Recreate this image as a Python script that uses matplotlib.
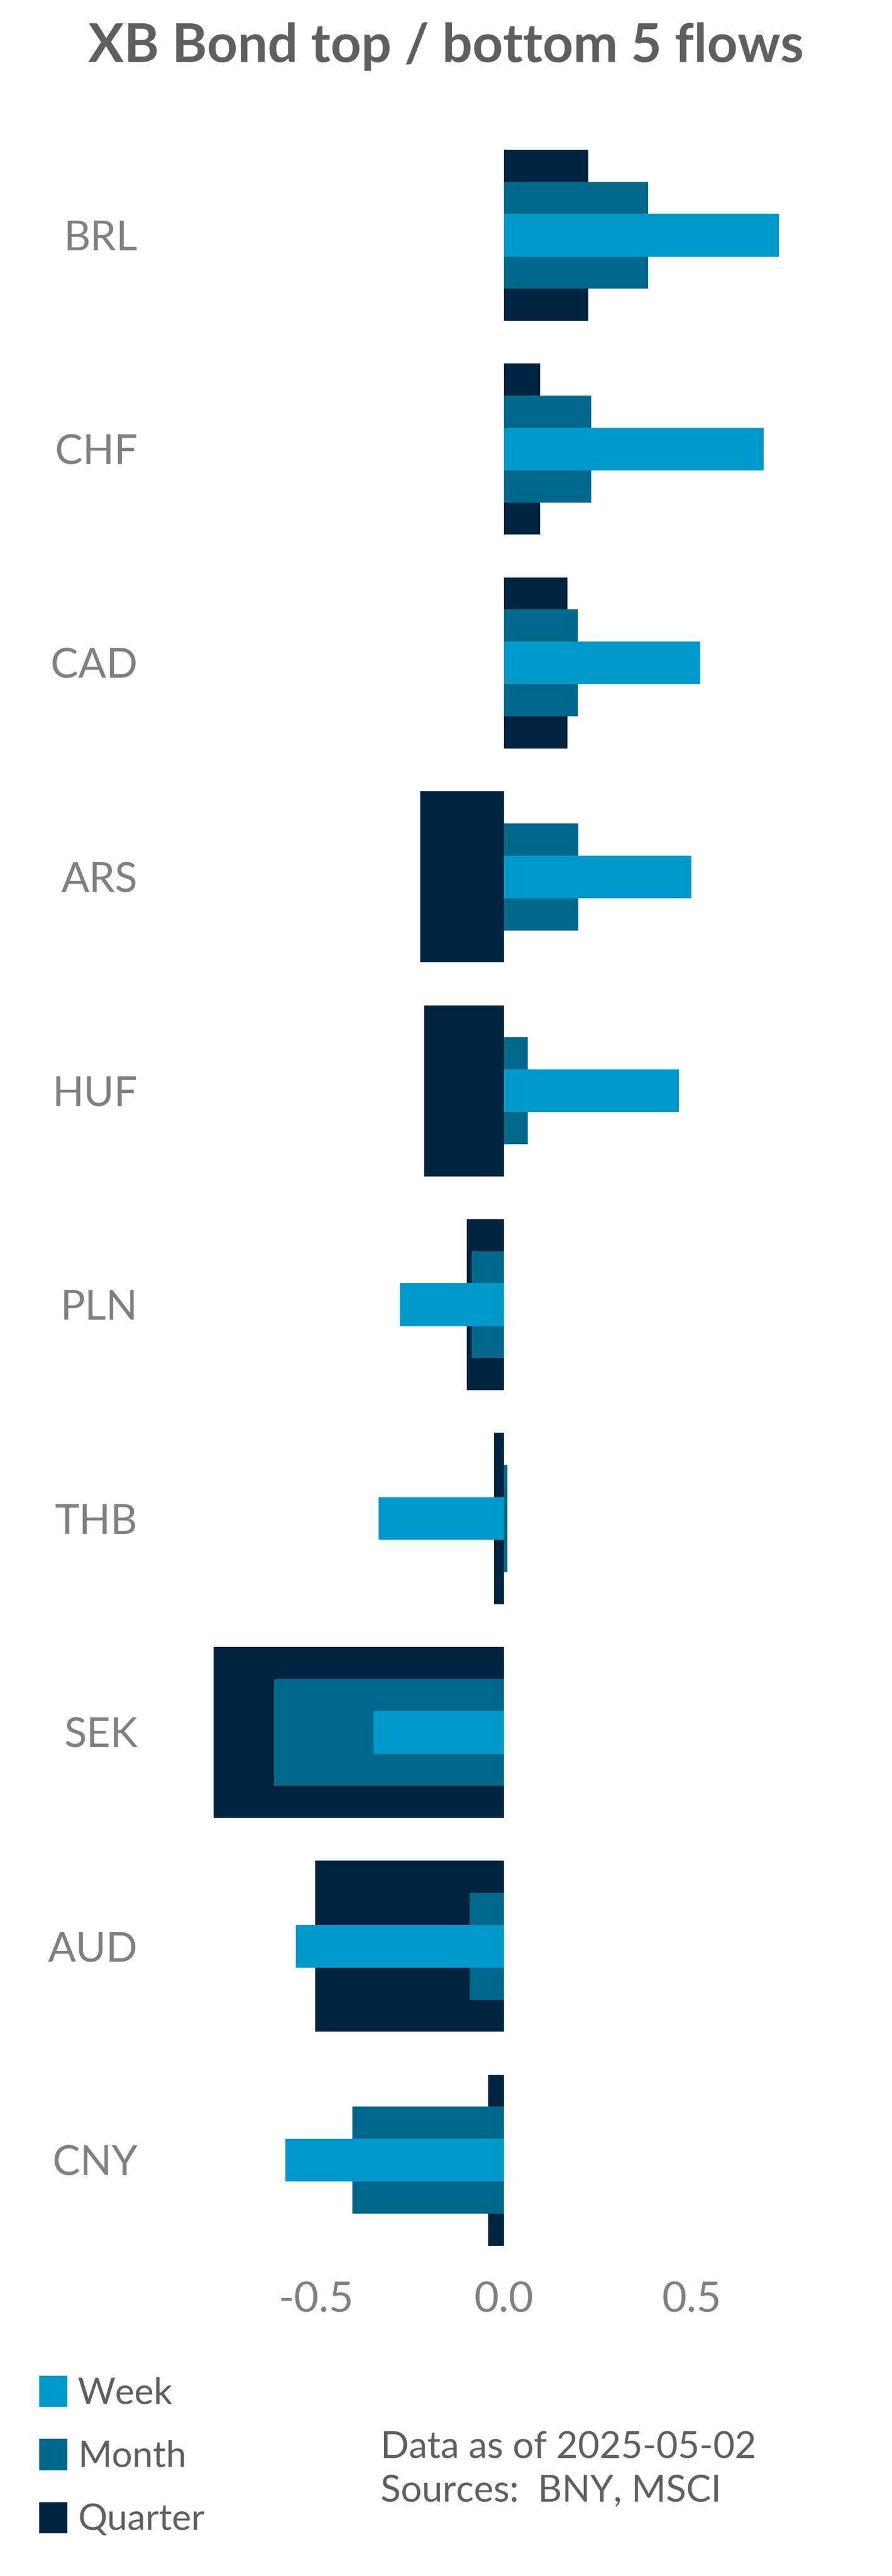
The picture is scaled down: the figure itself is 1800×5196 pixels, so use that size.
import matplotlib
matplotlib.use("Agg")
import matplotlib.pyplot as plt
from matplotlib.patches import Patch
import numpy as np

# currencies, top to bottom
currencies = ["BRL", "CHF", "CAD", "ARS", "HUF", "PLN", "THB", "SEK", "AUD", "CNY"]

# flows
week = [0.733, 0.692, 0.523, 0.499, 0.466, -0.277, -0.334, -0.347, -0.555, -0.582]
month = [0.384, 0.232, 0.197, 0.198, 0.063, -0.086, 0.009, -0.613, -0.091, -0.404]
quarter = [0.225, 0.097, 0.169, -0.223, -0.213, -0.099, -0.026, -0.773, -0.503, -0.042]

xticks = [-0.5, 0.0, 0.5]

c_week = "#0099CC"
c_month = "#00688A"
c_quarter = "#002440"

plt.rcParams['font.family'] = ['Lato', 'DejaVu Sans']

fig = plt.figure(figsize=(9, 25.98), dpi=200)
ax = fig.add_axes([0.2283, 0.1199, 0.6733, 0.8303])

y = np.arange(len(currencies))
# widest band at the back, narrowest in front
ax.barh(y, quarter, height=0.8, color=c_quarter, label="Quarter")
ax.barh(y, month, height=0.5, color=c_month, label="Month")
ax.barh(y, week, height=0.2, color=c_week, label="Week")

ax.set_xlim(-0.8, 0.8)
ax.set_ylim(len(currencies) - 0.5, -0.5)
ax.set_yticks(y)
ax.set_yticklabels(currencies)
ax.set_xticks(xticks)
ax.set_xticklabels([f"{t:.1f}" for t in xticks])

for s in ax.spines.values():
    s.set_visible(False)
ax.tick_params(axis='y', length=0, pad=48, labelsize=30, labelcolor="#808080")
ax.tick_params(axis='x', length=0, pad=10, labelsize=31, labelcolor="#808080")

fig.text(0.5, 1 - 94 / 5196, "XB Bond top / bottom 5 flows", ha='center', va='center',
         fontsize=38.7, fontweight='bold', color="#5F5F5F")

# legend down the bottom left
handles = [Patch(color=c_week), Patch(color=c_month), Patch(color=c_quarter)]
leg = fig.legend(handles, ["Week", "Month", "Quarter"], loc='upper left',
                 bbox_to_anchor=(80 / 1800, 1 - 4793 / 5196), frameon=False,
                 fontsize=26.5, handlelength=0.74, handleheight=0.88,
                 handletextpad=0.31, labelspacing=0.8, borderpad=0, borderaxespad=0)
for t in leg.get_texts():
    t.set_color("#5F5F5F")

fig.text(768 / 1800, 1 - 4937 / 5196, "Data as of 2025-05-02", ha='left', va='center',
         fontsize=27, color="#5F5F5F")
fig.text(768 / 1800, 1 - 5024 / 5196, "Sources:  BNY, MSCI", ha='left', va='center',
         fontsize=27, color="#5F5F5F")

fig.savefig("out.png", dpi=200)
